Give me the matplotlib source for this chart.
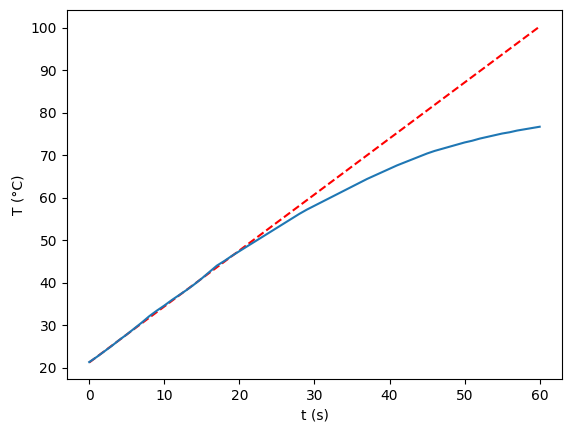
import matplotlib
matplotlib.use("Agg")
import matplotlib.pyplot as plt

# measured temperature (blue)
t = list(range(0, 61))
T = [21.3, 22.5, 23.8, 25.1, 26.5, 27.8, 29.2, 30.6, 32.1, 33.4,
     34.6, 35.9, 37.1, 38.3, 39.6, 41.0, 42.5, 44.0, 45.1, 46.3,
     47.4, 48.5, 49.6, 50.7, 51.8, 52.9, 54.0, 55.1, 56.2, 57.2,
     58.1, 59.0, 59.9, 60.8, 61.7, 62.6, 63.5, 64.4, 65.2, 66.0,
     66.8, 67.6, 68.3, 69.0, 69.7, 70.4, 71.0, 71.5, 72.0, 72.5,
     73.0, 73.4, 73.9, 74.3, 74.7, 75.1, 75.4, 75.8, 76.1, 76.4,
     76.7]

# linear fit (red dashed)
t_fit = [0, 60]
T_fit = [21.2, 100.3]

fig = plt.figure(figsize=(5.71, 4.32), dpi=100)
ax = fig.add_axes([0.1168, 0.122, 0.8678, 0.8556])
ax.plot(t_fit, T_fit, "r--")
ax.plot(t, T, color="C0")
ax.set_xlabel("t (s)")
ax.set_ylabel("T (°C)")
fig.savefig("out.png")
